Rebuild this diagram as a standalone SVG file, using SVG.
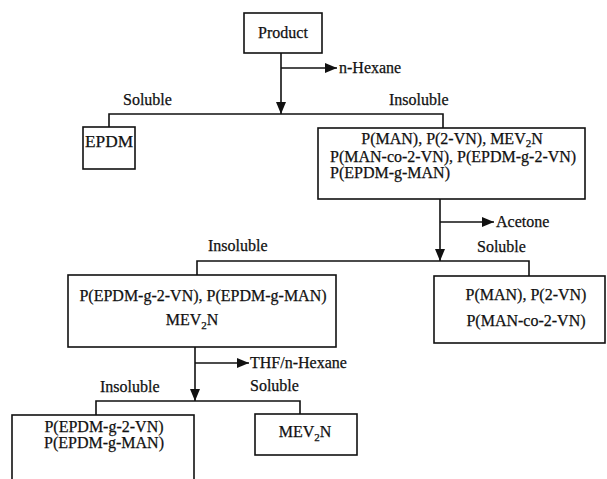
<svg xmlns="http://www.w3.org/2000/svg" width="607" height="479" viewBox="0 0 607 479">
<defs>
<style>
.box{fill:#fff;stroke:#111;stroke-width:1.6}
.ln{fill:none;stroke:#111;stroke-width:1.6}
text{font-family:"Liberation Serif","Times New Roman",serif;font-size:16px;fill:#111;stroke:#111;stroke-width:0.25}
.sub{font-size:11px}
</style>
<marker id="ah" viewBox="0 0 12 10" refX="12" refY="5" markerWidth="12" markerHeight="10" markerUnits="userSpaceOnUse" orient="auto">
<path d="M0,0 L12,5 L0,10 Z" fill="#111"/>
</marker>
</defs>
<rect width="607" height="479" fill="#fff"/>
<g id="connectors">
<path class="ln" d="M281,53 V114" marker-end="url(#ah)"/>
<path class="ln" d="M281,68 H337" marker-end="url(#ah)"/>
<path class="ln" d="M109,127 V114 H443 V128"/>
<path class="ln" d="M440,199 V261" marker-end="url(#ah)"/>
<path class="ln" d="M440,222 H494" marker-end="url(#ah)"/>
<path class="ln" d="M197,275 V261 H529 V276"/>
<path class="ln" d="M195,347 V401" marker-end="url(#ah)"/>
<path class="ln" d="M195,363 H249" marker-end="url(#ah)"/>
<path class="ln" d="M96,415 V401 H300 V414"/>
<text x="339" y="73">n-Hexane</text>
<text x="123" y="105">Soluble</text>
<text x="389" y="105">Insoluble</text>
<text x="496" y="227">Acetone</text>
<text x="208" y="251">Insoluble</text>
<text x="477" y="252">Soluble</text>
<text x="250" y="368">THF/n-Hexane</text>
<text x="100" y="392">Insoluble</text>
<text x="250" y="391">Soluble</text>
</g>
<g id="product">
<rect class="box" x="244" y="13" width="78" height="40"/>
<text x="283" y="38" text-anchor="middle">Product</text>
</g>
<g id="epdm">
<rect class="box" x="83" y="127" width="52" height="42"/>
<text x="85" y="147" textLength="48" lengthAdjust="spacingAndGlyphs">EPDM</text>
</g>
<g id="insoluble1">
<rect class="box" x="318" y="128" width="267" height="71"/>
<text x="452" y="144" text-anchor="middle">P(MAN), P(2-VN), MEV<tspan class="sub" dy="3">2</tspan><tspan dy="-3">N</tspan></text>
<text x="330" y="161.5">P(MAN-co-2-VN), P(EPDM-g-2-VN)</text>
<text x="330" y="178">P(EPDM-g-MAN)</text>
</g>
<g id="insoluble2">
<rect class="box" x="68" y="275" width="268" height="72"/>
<text x="203" y="301" text-anchor="middle">P(EPDM-g-2-VN), P(EPDM-g-MAN)</text>
<text x="192" y="325" text-anchor="middle">MEV<tspan class="sub" dy="4">2</tspan><tspan dy="-4">N</tspan></text>
</g>
<g id="soluble2">
<rect class="box" x="434" y="276" width="171" height="67"/>
<text x="526" y="300" text-anchor="middle">P(MAN), P(2-VN)</text>
<text x="526" y="326" text-anchor="middle">P(MAN-co-2-VN)</text>
</g>
<g id="insoluble3">
<rect class="box" x="12" y="415" width="182" height="80"/>
<text x="104" y="432" text-anchor="middle">P(EPDM-g-2-VN)</text>
<text x="104" y="448" text-anchor="middle">P(EPDM-g-MAN)</text>
</g>
<g id="soluble3">
<rect class="box" x="255" y="414" width="102" height="41"/>
<text x="305" y="437" text-anchor="middle">MEV<tspan class="sub" dy="4">2</tspan><tspan dy="-4">N</tspan></text>
</g>
</svg>
